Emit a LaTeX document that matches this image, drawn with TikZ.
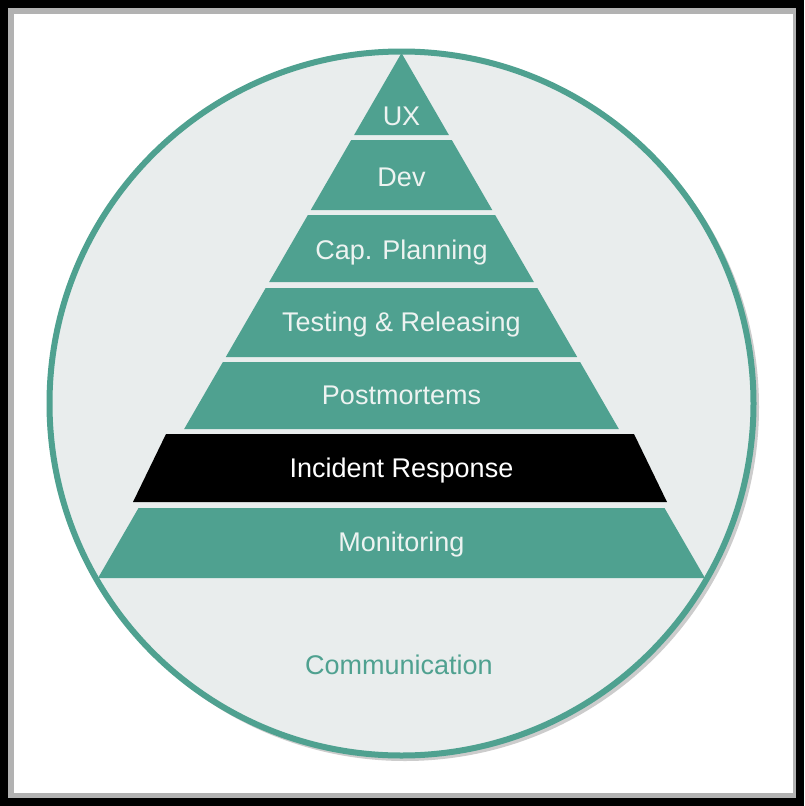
\documentclass[tikz,border=0pt]{standalone}
\usepackage{fontspec}
\setmainfont{Liberation Sans}
\definecolor{pyrgreen}{HTML}{4FA190}
\definecolor{circfill}{HTML}{E9EDED}
\definecolor{lblwhite}{HTML}{EDF3F1}
\tikzset{
  layer/.style={fill=pyrgreen},
  lbl/.style={text=lblwhite, anchor=base, font=\fontsize{27}{30}\selectfont},
}

\begin{document}
\begin{tikzpicture}[x=1pt,y=-1pt]
\useasboundingbox (0,0) rectangle (804,806);
\fill[white] (0,0) rectangle (804,806);
\draw[black!30, line width=6pt] (11,11) rectangle (796,796);
\draw[line width=8pt] (4,4) rectangle (800,802);
\fill[black!20] (405,407) circle (354);
\draw[pyrgreen, fill=circfill, line width=6pt] (401.5,403.5) circle (352);
\foreach \t/\b/\y/\nm/\txt in {53/135/125/ux/UX, 140/210/186/dev/Dev,
    215/282/259/cap/Cap. Planning, 288/357/331/test/Testing \& Releasing,
    362/429/404/post/Postmortems, 508/578/551/mon/Monitoring}
{
  \fill[layer] ({401.5-0.578*(\t-53)},\t) -- ({401.5+0.578*(\t-53)},\t)
    -- ({401.5+0.578*(\b-53)},\b) -- ({401.5-0.578*(\b-53)},\b) -- cycle;
  \node[lbl] (\nm) at (401.5,\y) {\txt};
}
\fill[black] (166,434) -- (634,434) -- (667,502) -- (133,502) -- cycle;
\node[lbl, text=white] (inc) at (401.5,477) {Incident Response};
\node[lbl, text=pyrgreen] (comm) at (399,674) {Communication};
\end{tikzpicture}
\end{document}
